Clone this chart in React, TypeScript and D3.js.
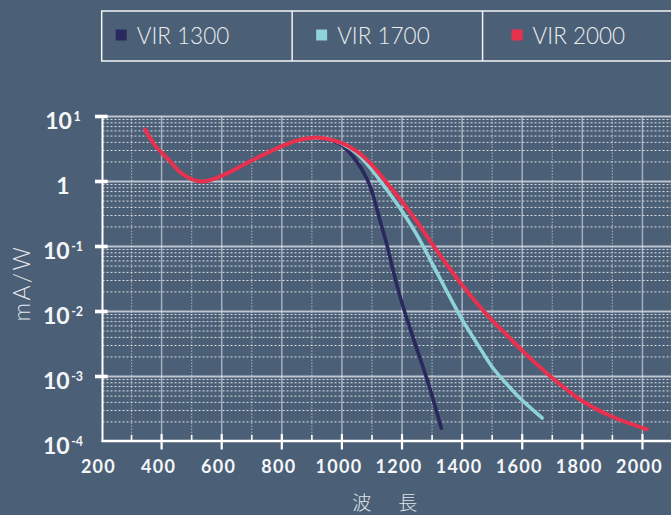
import React from 'react';
import * as d3 from 'd3';

// wavelength (nm) vs responsivity (mA/W)
const vir1300 = [
  { x: 900, y: 4.6 }, { x: 950, y: 4.5 }, { x: 1000, y: 3.6 }, { x: 1050, y: 2.0 },
  { x: 1083, y: 1.1 }, { x: 1100, y: 0.7 }, { x: 1128, y: 0.24 }, { x: 1150, y: 0.105 },
  { x: 1166, y: 0.052 }, { x: 1195, y: 0.016 }, { x: 1239, y: 0.0037 }, { x: 1284, y: 0.00088 },
  { x: 1331, y: 0.00016 },
];
const vir1700 = [
  { x: 900, y: 4.6 }, { x: 950, y: 4.6 }, { x: 1000, y: 3.8 }, { x: 1050, y: 2.7 },
  { x: 1100, y: 1.5 }, { x: 1150, y: 0.74 }, { x: 1200, y: 0.35 }, { x: 1250, y: 0.15 },
  { x: 1300, y: 0.055 }, { x: 1350, y: 0.02 }, { x: 1400, y: 0.0075 }, { x: 1450, y: 0.0032 },
  { x: 1500, y: 0.0014 }, { x: 1550, y: 0.00075 }, { x: 1600, y: 0.00043 }, { x: 1666, y: 0.00023 },
];
const vir2000 = [
  { x: 345, y: 6.3 }, { x: 380, y: 3.5 }, { x: 420, y: 2.25 }, { x: 470, y: 1.3 },
  { x: 530, y: 1.0 }, { x: 600, y: 1.22 }, { x: 700, y: 2.1 }, { x: 800, y: 3.5 },
  { x: 860, y: 4.4 }, { x: 920, y: 4.7 }, { x: 1000, y: 3.9 }, { x: 1050, y: 2.9 },
  { x: 1100, y: 1.8 }, { x: 1150, y: 0.94 }, { x: 1200, y: 0.49 }, { x: 1250, y: 0.24 },
  { x: 1300, y: 0.11 }, { x: 1350, y: 0.052 }, { x: 1400, y: 0.0255 }, { x: 1450, y: 0.0133 },
  { x: 1500, y: 0.0073 }, { x: 1550, y: 0.0043 }, { x: 1600, y: 0.0025 }, { x: 1700, y: 0.00095 },
  { x: 1800, y: 0.00042 }, { x: 1900, y: 0.00024 }, { x: 2015, y: 0.000154 },
];

const series = [
  { name: 'VIR 1300', color: '#2a295d', data: vir1300 },
  { name: 'VIR 1700', color: '#8dd3d7', data: vir1700 },
  { name: 'VIR 2000', color: '#e8314f', data: vir2000 },
];

const xMajorTicks = [200, 400, 600, 800, 1000, 1200, 1400, 1600, 1800, 2000];
const xMinorTicks = [300, 500, 700, 900, 1100, 1300, 1500, 1700, 1900, 2100];
const yDecades = [1, 0, -1, -2, -3, -4];
const xTitle = '波　長';
const yTitle = 'mA/W';

const W = 671;
const H = 515;
const BG = '#4b5f76';
const FONT = 'Lato, "Noto Sans", sans-serif';

const App = () => {
  const x = d3.scaleLinear().domain([200, 2100]).range([101.5, 672.5]);
  const y = d3.scaleLog().domain([1e-4, 10]).range([441.5, 116.5]);
  const top = y(10);
  const bottom = y(1e-4);
  const left = x(200) + 1;

  // minor log grid: 2..9 within each decade
  const yMinor = [];
  yDecades.slice(1).forEach(p => {
    for (let k = 2; k <= 9; k++) yMinor.push(k * Math.pow(10, p));
  });

  const line = d3.line()
    .x(d => x(d.x))
    .y(d => y(d.y))
    .curve(d3.curveCatmullRom.alpha(0.5));

  const legend = d3.scaleBand().domain(series.map(s => s.name)).range([101.7, 673]);
  const legendPad = [14, 24, 29];

  return (
    <svg width={W} height={H} style={{ position: 'absolute', left: 0, top: 0, background: BG }}>
      <rect width={W} height={H} fill={BG} />

      {/* legend */}
      <rect x={101.7} y={11} width={673 - 101.7} height={50} fill="none" stroke="#f2f4f6" strokeWidth={1.5} />
      {series.map((s, i) => {
        const x0 = legend(s.name);
        return (
          <g key={s.name}>
            {i > 0 && <line x1={x0} x2={x0} y1={11} y2={61} stroke="#f2f4f6" strokeWidth={1.5} />}
            <rect x={x0 + legendPad[i]} y={29.5} width={11} height={11} fill={s.color} />
            <text x={x0 + legendPad[i] + 21} y={44} fill="#e9edf0" fontFamily={FONT} fontWeight={300} fontSize={22.5}>
              {s.name}
            </text>
          </g>
        );
      })}

      {/* grid */}
      {yMinor.map(v => (
        <line key={'ym' + v} x1={left} x2={W} y1={y(v)} y2={y(v)}
          stroke="rgba(255,255,255,0.8)" strokeWidth={1} strokeDasharray="2,2" />
      ))}
      {xMinorTicks.map(v => (
        <line key={'xm' + v} x1={x(v)} x2={x(v)} y1={top} y2={bottom}
          stroke="rgba(255,255,255,0.45)" strokeWidth={1.2} strokeDasharray="1.5,1.5" />
      ))}
      {xMajorTicks.slice(1).map(v => (
        <line key={'xM' + v} x1={x(v)} x2={x(v)} y1={top} y2={bottom}
          stroke="rgba(225,230,236,0.6)" strokeWidth={1.5} />
      ))}
      {yDecades.slice(0, -1).map(p => (
        <line key={'yM' + p} x1={left} x2={W} y1={y(Math.pow(10, p))} y2={y(Math.pow(10, p))}
          stroke="rgba(225,230,236,0.75)" strokeWidth={2} />
      ))}

      {/* axes */}
      <line x1={left} x2={left} y1={top} y2={bottom} stroke="#fff" strokeWidth={2} />
      <line x1={left - 1} x2={W} y1={bottom - 0.5} y2={bottom - 0.5} stroke="#fff" strokeWidth={2.5} />
      {yDecades.slice(0, -1).map(p => (
        <rect key={'yt' + p} x={95} y={y(Math.pow(10, p)) - 1.8} width={12.7} height={3.6} fill="#fff" />
      ))}
      {xMajorTicks.slice(1).map(v => (
        <line key={'xt' + v} x1={x(v)} x2={x(v)} y1={434} y2={449.5} stroke="#fff" strokeWidth={2.2} />
      ))}
      {xMinorTicks.map(v => (
        <line key={'xtm' + v} x1={x(v)} x2={x(v)} y1={435} y2={441} stroke="#fff" strokeWidth={1.6} />
      ))}

      {/* tick labels */}
      {xMajorTicks.map(v => (
        <text key={'xl' + v} x={x(v) - 3} y={473} textAnchor="middle" fill="#f4f6f8"
          fontFamily={FONT} fontWeight={700} fontSize={18} letterSpacing={1.3}>
          {v}
        </text>
      ))}
      {yDecades.map(p => (
        <text key={'yl' + p} x={63} y={y(Math.pow(10, p)) + 12.5} textAnchor="middle" fill="#f4f6f8"
          fontFamily={FONT} fontWeight={700} fontSize={23}>
          {p === 0 ? '1' : (
            <>
              <tspan>10</tspan>
              <tspan dx={1.5} dy={-8.3} fontSize={12.5}>{p}</tspan>
            </>
          )}
        </text>
      ))}

      {/* titles */}
      <text transform="translate(30,283) rotate(-90)" textAnchor="middle" fill="#e3e8ec"
        fontFamily={FONT} fontWeight={300} fontSize={23} letterSpacing={2.5}>
        {yTitle}
      </text>
      <text x={386.7} y={510} textAnchor="middle" fill="#dfe4e8"
        fontFamily='"Noto Sans CJK JP", sans-serif' fontWeight={300} fontSize={19} letterSpacing={4}>
        {xTitle}
      </text>

      {/* series */}
      {series.map(s => (
        <path key={s.name} d={line(s.data)} fill="none" stroke={s.color}
          strokeWidth={s.name === 'VIR 2000' ? 4 : 3.6} strokeLinecap="round" />
      ))}
    </svg>
  );
};

export default App;
